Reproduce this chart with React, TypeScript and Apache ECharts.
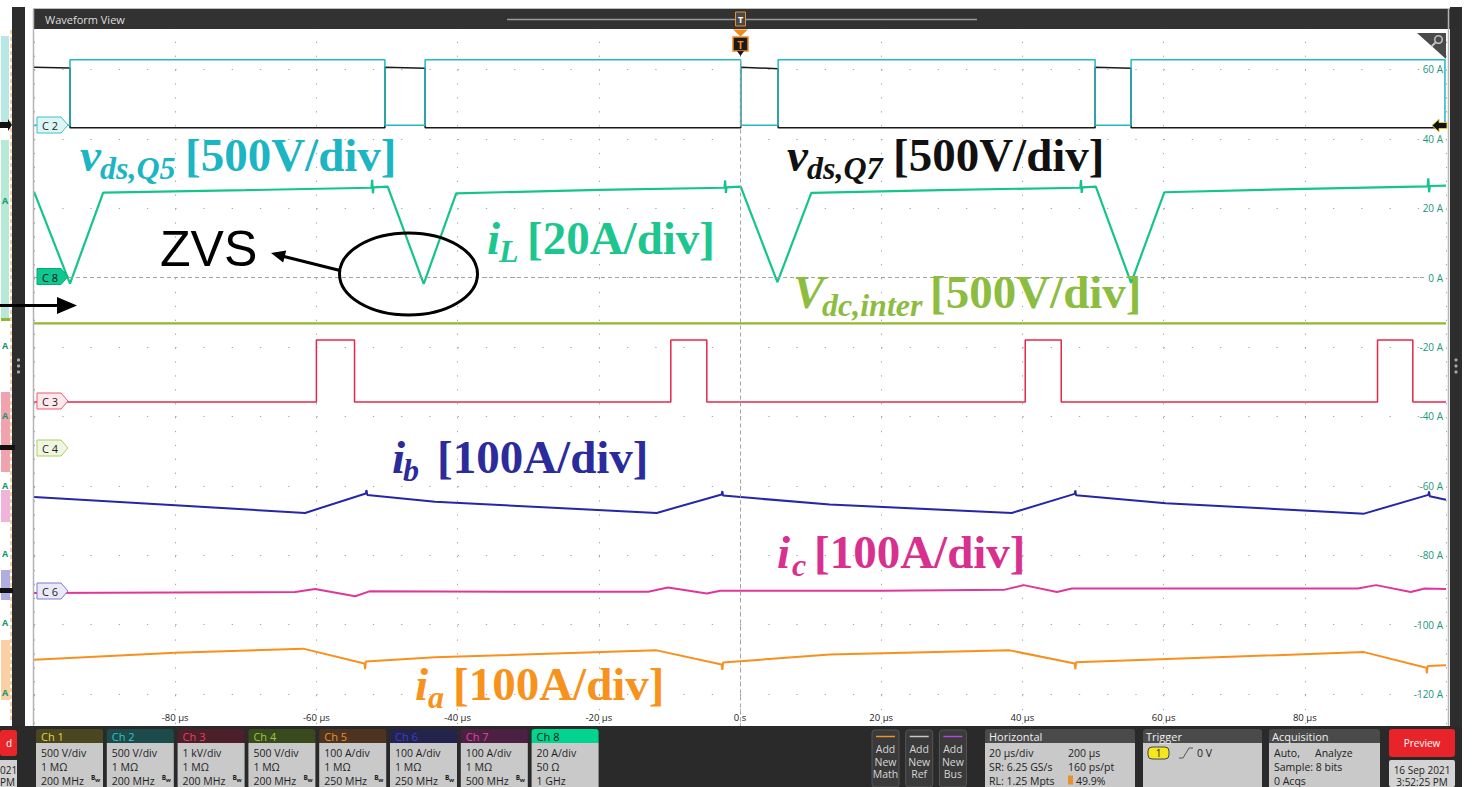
import { useEffect, useRef } from "react";
import * as echarts from "echarts";

type Pt = [number, number];

// Horizontal: time in µs (20 µs/div). Vertical: screen level read on the Ch8 graticule
// (20 A/div, 0 A at the C8 marker); every trace is placed on that common scale.

const vdsQ5: Pt[] = [
  [-100, 43.9], [-94.9, 43.9], [-94.9, 62.8], [-50.3, 62.8], [-50.3, 43.9],
  [-44.6, 43.9], [-44.6, 62.8], [0.1, 62.8], [0.1, 43.9], [5.4, 43.9],
  [5.4, 62.8], [50.3, 62.8], [50.3, 43.9], [55.4, 43.9], [55.4, 62.8],
  [99.85, 62.8], [99.85, 44.6], [100, 44.6],
];

const vdsQ7: Pt[] = [
  [-100, 60.6], [-94.9, 60.4], [-94.9, 43.2], [-50.3, 43.2], [-50.3, 60.6],
  [-44.6, 60.3], [-44.6, 43.2], [0.1, 43.2], [0.1, 60.6], [5.4, 60.2],
  [5.4, 43.2], [50.3, 43.2], [50.3, 60.6], [55.4, 60.3], [55.4, 43.2],
  [100, 43.2],
];

const iL: Pt[] = [
  [-100, 24.8], [-94.9, -1.7], [-90.2, 24.5], [-70, 25.2], [-52.2, 25.9],
  [-52.1, 28.2], [-52.0, 24.3], [-51.9, 26.0], [-49.9, 26.2],
  [-44.8, -1.8], [-40.2, 24.3], [-20, 25.3], [-2.2, 25.9], [-2.1, 28.0],
  [-2.0, 24.4], [-1.9, 26.0], [0.1, 26.2], [5.3, -1.3], [10.1, 24.4],
  [30, 25.3], [48.2, 25.9], [48.3, 28.1], [48.4, 24.4], [48.5, 26.0],
  [50.4, 26.2], [55.4, -1.5], [60.1, 24.6], [80, 25.6], [97.4, 26.3],
  [97.5, 28.6], [97.6, 24.6], [97.7, 26.4], [100, 26.5],
];

const vdcInter: Pt[] = [[-100, -13.2], [100, -13.2]];

const ch3: Pt[] = [
  [-100, -35.8], [-60.0, -35.8], [-60.0, -18.0], [-54.6, -18.0], [-54.6, -35.8],
  [-9.8, -35.8], [-9.8, -18.0], [-4.7, -18.0], [-4.7, -35.8], [40.4, -35.8],
  [40.4, -18.0], [45.5, -18.0], [45.5, -35.8], [90.3, -35.8], [90.3, -18.0],
  [95.3, -18.0], [95.3, -35.8], [100, -35.8],
];

const ib: Pt[] = [
  [-100, -63.2], [-80, -65.6], [-61.6, -67.8], [-53.0, -62.2], [-52.9, -61.2],
  [-52.8, -62.6], [-43.2, -64.6], [-11.8, -67.8], [-2.6, -62.5], [-2.5, -61.5],
  [-2.4, -62.8], [12.7, -65.4], [38.5, -67.8], [47.4, -62.3], [47.5, -61.3],
  [47.6, -62.7], [60.3, -65.0], [88.4, -68.0], [97.5, -62.6], [97.6, -61.6],
  [97.7, -63.0], [100, -64.0],
];

const ic: Pt[] = [
  [-100, -90.9], [-80, -90.7], [-63, -90.6], [-60.2, -89.7], [-54.5, -91.8],
  [-52.5, -90.4], [-30, -90.5], [-13, -90.5], [-10.2, -89.3], [-4.7, -91.0],
  [-2.8, -90.2], [20, -90.2], [37.5, -89.9], [40.2, -88.6], [44.9, -90.6],
  [47, -89.6], [70, -89.6], [87.5, -89.6], [90.1, -88.6], [95.0, -90.6],
  [97, -89.6], [100, -89.7],
];

const ia: Pt[] = [
  [-100, -110.1], [-80, -108.1], [-61.9, -106.9], [-53.2, -111.2], [-53.1, -112.8],
  [-53.0, -110.6], [-43.2, -109.4], [-11.8, -107.4], [-2.6, -111.5], [-2.5, -113.0],
  [-2.4, -110.9], [12.7, -108.6], [38.2, -107.4], [47.4, -111.2], [47.5, -112.8],
  [47.6, -110.8], [88.4, -107.9], [97.2, -112.4], [97.3, -114.0], [97.4, -111.9],
  [100, -111.7],
];

const channelNames = ["Ch 1", "Ch 2", "Ch 3", "Ch 4", "Ch 5", "Ch 6", "Ch 7", "Ch 8"];
const channelScales = ["500 V/div", "500 V/div", "1 kV/div", "500 V/div", "100 A/div", "100 A/div", "100 A/div", "20 A/div"];
const channelInputs = ["1 MΩ", "1 MΩ", "1 MΩ", "1 MΩ", "1 MΩ", "1 MΩ", "1 MΩ", "50 Ω"];
const channelBandwidths = ["200 MHz", "200 MHz", "200 MHz", "200 MHz", "250 MHz", "250 MHz", "500 MHz", "1 GHz"];
const channelHeadBg = ["#4a4720", "#1d4a4a", "#4c1f2b", "#394a1f", "#4c3420", "#23234c", "#4c2042", "#00d48e"];
const channelHeadFg = ["#e6d442", "#2ec8c8", "#e8435c", "#9ccc3a", "#f0902a", "#3d3dd4", "#e043a2", "#111111"];

const Z = 100;
const SERIF = "Liberation Serif";
const UI = "Open Sans";

function rect(x: number, y: number, w: number, h: number, fill: string, o: any = {}) {
  return {
    type: "rect", z: o.z ?? Z, silent: true,
    shape: { x, y, width: w, height: h, r: o.r ?? 0 },
    style: { fill, stroke: o.stroke ?? null, lineWidth: o.lw ?? 0, opacity: o.opacity ?? 1 },
  };
}

function text(x: number, y: number, t: string, o: any = {}) {
  const align = o.align ?? "left";
  return {
    type: "text", z: o.z ?? Z + 2, silent: true, x, y,
    style: {
      text: t, fill: o.fill ?? "#222", fontSize: o.size ?? 10.5,
      fontFamily: o.family ?? UI, fontWeight: o.weight ?? "normal",
      fontStyle: o.italic ? "italic" : "normal",
      align, textAlign: align, verticalAlign: "middle", textVerticalAlign: "middle",
    },
  };
}

function line(x1: number, y1: number, x2: number, y2: number, stroke: string, lw = 1, o: any = {}) {
  return {
    type: "line", z: o.z ?? Z + 1, silent: true,
    shape: { x1, y1, x2, y2 },
    style: { stroke, lineWidth: lw, lineDash: o.dash ?? null },
  };
}

function poly(points: number[][], fill: string, o: any = {}) {
  return {
    type: "polygon", z: o.z ?? Z + 1, silent: true,
    shape: { points },
    style: { fill, stroke: o.stroke ?? null, lineWidth: o.lw ?? 0 },
  };
}

function channelTag(y: number, label: string, fill: string, stroke: string, fg = "#222") {
  return [
    poly([[37, y - 8], [61, y - 8], [68, y], [61, y + 8], [37, y + 8]], fill, { stroke, lw: 1, z: Z + 3 }),
    text(42, y + 0.5, label, { fill: fg, size: 11, z: Z + 4 }),
  ];
}

// italic symbol + italic subscript + upright scale text
function traceLabel(x: number, y: number, sym: string, subX: number, sub: string, scaleX: number, scale: string, fill: string) {
  return [
    text(x, y, sym, { fill, size: 47, family: SERIF, weight: "bold", italic: true }),
    text(subX, y + 13, sub, { fill, size: 32, family: SERIF, weight: "bold", italic: true }),
    text(scaleX, y, scale, { fill, size: 47, family: SERIF, weight: "bold" }),
  ];
}

function buildGraphic() {
  const g: any[] = [];

  // page chrome: top strip, header, side columns, plot frame
  g.push(rect(0, 0, 1482, 8.5, "#ffffff"));
  g.push(rect(33, 8, 1418, 1, "#bdbdbd"));
  g.push(rect(33, 9, 1417, 20, "#323232"));
  g.push(text(45, 19.5, "Waveform View", { fill: "#dedede", size: 11 }));
  g.push(line(507, 19.5, 977, 19.5, "#9c9c9c", 1.5));
  g.push(rect(735.5, 12, 10, 14, "#4a4a4a", { stroke: "#e8902a", lw: 1, z: Z + 1 }));
  g.push(text(740.5, 19.5, "T", { fill: "#ffffff", size: 9, weight: "bold", align: "center" }));

  g.push(rect(0, 9, 12, 717, "#ffffff"));
  g.push(rect(12, 7, 13, 780, "#2d2d2d"));
  g.push(rect(25, 9, 8, 717, "#ffffff"));
  g.push(line(33.5, 9, 33.5, 726, "#b4b4b4", 1.5));
  g.push(line(1448.5, 9, 1448.5, 726, "#b4b4b4", 1.5));
  g.push(rect(1450, 7, 12, 780, "#2d2d2d"));
  g.push(rect(1462, 0, 20, 787, "#ffffff"));
  for (const dy of [-6, 0, 6]) {
    g.push({ type: "circle", z: Z + 1, silent: true, shape: { cx: 18.5, cy: 366 + dy, r: 1.6 }, style: { fill: "#a8a8a8" } });
    g.push({ type: "circle", z: Z + 1, silent: true, shape: { cx: 1456, cy: 366 + dy, r: 1.6 }, style: { fill: "#a8a8a8" } });
  }

  // narrow overview strip on the far left
  g.push(rect(1, 36, 8, 92, "#7fd3cc", { opacity: 0.55 }));
  g.push(rect(1, 140, 8, 180, "#5fd0a4", { opacity: 0.45 }));
  g.push(rect(1, 318, 9, 3, "#8fb82e"));
  g.push(rect(1, 392, 9, 80, "#e5566e", { opacity: 0.55 }));
  g.push(rect(1, 490, 9, 32, "#e06ab0", { opacity: 0.5 }));
  g.push(rect(1, 570, 9, 30, "#4b4bc0", { opacity: 0.45 }));
  g.push(rect(1, 640, 9, 60, "#f5a24a", { opacity: 0.5 }));
  g.push(line(11, 30, 11, 720, "#f0a040", 1, { dash: [4, 3] }));
  for (const ay of [200, 345, 415, 485, 553, 622, 692]) {
    g.push(text(5, ay, "A", { fill: "#169a72", size: 9, weight: "bold", align: "center" }));
  }
  g.push(poly([[0, 122], [8, 122], [8, 119], [12, 125], [8, 131], [8, 128], [0, 128]], "#111111"));
  g.push(rect(0, 445, 15, 5, "#111111", { z: Z + 1 }));
  g.push(rect(0, 588, 13, 5, "#111111", { z: Z + 1 }));

  // top-right zoom corner and right-edge ground marker
  g.push(poly([[1417, 33], [1446, 33], [1446, 59]], "#4a4a4a"));
  g.push({ type: "circle", z: Z + 2, silent: true, shape: { cx: 1438.5, cy: 39.5, r: 3.8 }, style: { fill: "none", stroke: "#c4c4c4", lineWidth: 1.5 } });
  g.push(line(1435.6, 42.4, 1431.5, 46.5, "#c4c4c4", 2, { z: Z + 2 }));
  g.push(poly([[1432, 125.5], [1439, 119], [1439, 122.5], [1447, 122.5], [1447, 128.5], [1439, 128.5], [1439, 132]], "#111111", { stroke: "#e0c83a", lw: 1 }));

  // trigger position marker
  g.push(poly([[733, 29.5], [748, 29.5], [740.5, 36.5]], "#f08c1e"));
  g.push(rect(733, 37, 15, 14, "#1a1a1a", { stroke: "#f08c1e", lw: 1.5, z: Z + 1 }));
  g.push(text(740.5, 44.5, "T", { fill: "#f08c1e", size: 11, weight: "bold", align: "center" }));
  g.push(poly([[737, 51], [744, 51], [740.5, 56]], "#1a1a1a"));

  // channel ground tags
  g.push(...channelTag(125, "C 2", "#def5f5", "#3cc2c8"));
  g.push(...channelTag(276.5, "C 8", "#10c78f", "#0aa676", "#111111"));
  g.push(...channelTag(401, "C 3", "#fde8eb", "#ea5a72"));
  g.push(...channelTag(448, "C 4", "#eff7e2", "#a9d15a"));
  g.push(...channelTag(591, "C 6", "#e9e9f8", "#7c7cd8"));

  // trace annotations
  g.push(...traceLabel(80, 155, "v", 100, "ds,Q5", 185, "[500V/div]", "#1bb5c4"));
  g.push(...traceLabel(787, 155, "v", 807, "ds,Q7", 893, "[500V/div]", "#111111"));
  g.push(...traceLabel(487, 238, "i", 499, "L", 527, "[20A/div]", "#1ec68f"));
  g.push(...traceLabel(793, 292, "V", 822, "dc,inter", 930, "[500V/div]", "#8dbd40"));
  g.push(...traceLabel(392, 457, "i", 403, "b", 437, "[100A/div]", "#2b2b9c"));
  g.push(...traceLabel(777, 552, "i", 792, "c", 814, "[100A/div]", "#d8308e"));
  g.push(...traceLabel(415, 684, "i", 428, "a", 453, "[100A/div]", "#f7931d"));

  // ZVS callout
  g.push(text(160, 249, "ZVS", { fill: "#000000", size: 50, family: "Liberation Sans" }));
  g.push({ type: "ellipse", z: Z + 1, silent: true, shape: { cx: 408.5, cy: 274, rx: 69, ry: 41 }, style: { fill: "none", stroke: "#000000", lineWidth: 3 } });
  g.push(line(340, 270.5, 284, 256.5, "#000000", 3));
  g.push(poly([[271, 253], [283.2, 262.4], [286.2, 250.4]], "#000000"));
  g.push(line(0, 305.5, 60, 305.5, "#000000", 3));
  g.push(poly([[77, 305.5], [57, 297], [57, 314]], "#000000"));

  // status bar
  g.push(rect(0, 726, 1462, 61, "#2a2a2a"));
  g.push(rect(0, 730, 17, 26, "#e8262a", { r: 3, z: Z + 1 }));
  g.push(text(9, 743, "d", { fill: "#ffffff", size: 10, align: "center" }));
  g.push(rect(0, 760, 17, 27, "#d2d2d2", { z: Z + 1 }));
  g.push(text(0, 769.5, "021", { fill: "#222", size: 10 }));
  g.push(text(0, 781.5, "PM", { fill: "#222", size: 10 }));

  channelNames.forEach((name, i) => {
    const x = 36 + 70.8 * i;
    g.push(rect(x, 729, 67, 14, channelHeadBg[i], { r: [3, 3, 0, 0], z: Z + 1 }));
    g.push(text(x + 5, 736, name, { fill: channelHeadFg[i], size: 11 }));
    g.push(rect(x, 743, 67, 44, "#c9c9c9", { z: Z + 1 }));
    g.push(text(x + 5, 752.5, channelScales[i], { fill: "#1e1e1e", size: 10.5 }));
    g.push(text(x + 5, 766.5, channelInputs[i], { fill: "#1e1e1e", size: 10.5 }));
    g.push(text(x + 5, 780.5, channelBandwidths[i], { fill: "#1e1e1e", size: 10.5 }));
    if (i < 7) {
      g.push(text(x + 55, 777, "B", { fill: "#1e1e1e", size: 6.5, weight: "bold" }));
      g.push(text(x + 59, 779.5, "w", { fill: "#1e1e1e", size: 6, weight: "bold" }));
    }
  });

  const addLabels = ["Math", "Ref", "Bus"];
  const addColors = ["#f0902a", "#c8c8c8", "#b347e6"];
  addLabels.forEach((lab, j) => {
    const x = 872 + 33.7 * j;
    g.push(rect(x, 730, 27, 57, "#3a3a3a", { r: 3, stroke: "#555555", lw: 1, z: Z + 1 }));
    g.push(line(x + 4, 736.5, x + 23, 736.5, addColors[j], 1.5, { z: Z + 2 }));
    g.push(text(x + 13.5, 749, "Add", { fill: "#d6d6d6", size: 10.5, align: "center" }));
    g.push(text(x + 13.5, 761.5, "New", { fill: "#d6d6d6", size: 10.5, align: "center" }));
    g.push(text(x + 13.5, 774, lab, { fill: "#d6d6d6", size: 10.5, align: "center" }));
  });

  g.push(rect(985, 729, 150, 14, "#4a4a4a", { r: [3, 3, 0, 0], z: Z + 1 }));
  g.push(text(989, 736, "Horizontal", { fill: "#f0f0f0", size: 11 }));
  g.push(rect(985, 743, 150, 44, "#c9c9c9", { z: Z + 1 }));
  g.push(text(989, 752.5, "20 µs/div", { size: 10.5 }));
  g.push(text(1068, 752.5, "200 µs", { size: 10.5 }));
  g.push(text(989, 766.5, "SR: 6.25 GS/s", { size: 10.5 }));
  g.push(text(1068, 766.5, "160 ps/pt", { size: 10.5 }));
  g.push(text(989, 780.5, "RL: 1.25 Mpts", { size: 10.5 }));
  g.push(rect(1068, 775.5, 5, 9, "#e8902a", { z: Z + 2 }));
  g.push(text(1076, 780.5, "49.9%", { size: 10.5 }));

  g.push(rect(1143, 729, 119, 14, "#4a4a4a", { r: [3, 3, 0, 0], z: Z + 1 }));
  g.push(text(1146, 736, "Trigger", { fill: "#f0f0f0", size: 11 }));
  g.push(rect(1143, 743, 119, 44, "#c9c9c9", { z: Z + 1 }));
  g.push(rect(1148, 747, 21, 12, "#f5e61e", { r: 4, stroke: "#444444", lw: 1, z: Z + 2 }));
  g.push(text(1158.5, 753, "1", { size: 10, align: "center" }));
  g.push({ type: "polyline", z: Z + 2, silent: true, shape: { points: [[1179, 758], [1183, 758], [1189, 748], [1193, 748]] }, style: { stroke: "#555555", lineWidth: 1, fill: "none" } });
  g.push(text(1197, 753, "0 V", { size: 10.5 }));

  g.push(rect(1269, 729, 111, 14, "#4a4a4a", { r: [3, 3, 0, 0], z: Z + 1 }));
  g.push(text(1272, 736, "Acquisition", { fill: "#f0f0f0", size: 11 }));
  g.push(rect(1269, 743, 111, 44, "#c9c9c9", { z: Z + 1 }));
  g.push(text(1274, 752.5, "Auto,", { size: 10.5 }));
  g.push(text(1315, 752.5, "Analyze", { size: 10.5 }));
  g.push(text(1274, 766.5, "Sample: 8 bits", { size: 10.5 }));
  g.push(text(1274, 780.5, "0 Acqs", { size: 10.5 }));

  g.push(rect(1389, 729, 66, 28, "#e8232a", { r: 3, z: Z + 1 }));
  g.push(text(1422, 743, "Preview", { fill: "#ffffff", size: 10, align: "center" }));
  g.push(rect(1389, 760, 66, 27, "#d4d4d4", { r: 2, z: Z + 1 }));
  g.push(text(1422, 770, "16 Sep 2021", { size: 10, align: "center" }));
  g.push(text(1422, 781.5, "3:52:25 PM", { size: 10, align: "center" }));

  return g;
}

function trace(name: string, data: Pt[], color: string, width: number, extra: any = {}) {
  return {
    type: "line", name, data, showSymbol: false, symbol: "none", silent: true,
    lineStyle: { color, width }, itemStyle: { color }, z: 2, ...extra,
  };
}

function buildOption() {
  return {
    animation: false,
    grid: { left: 34, right: 36, top: -1, bottom: 23.5 },
    xAxis: {
      type: "value", min: -100, max: 100, interval: 20, position: "bottom", offset: -37.5,
      axisLine: { show: false, onZero: false }, axisTick: { show: false },
      axisLabel: {
        inside: true, margin: 4, fontSize: 9.5, color: "#222222", fontFamily: UI,
        formatter: (v: number) => (v === 0 ? "0 s" : Math.abs(v) >= 100 ? "" : `${v} µs`),
      },
      splitLine: { show: true, lineStyle: { color: "#a6a6a6", width: 1, type: [1.3, 12.6] } },
    },
    yAxis: {
      type: "value", min: -140, max: 80, interval: 20, position: "right",
      axisLine: { show: false, onZero: false }, axisTick: { show: false },
      axisLabel: {
        inside: true, margin: 3, fontSize: 10, color: "#18977a", fontFamily: UI,
        formatter: (v: number) => (v <= 60 && v >= -120 ? `${v} A` : ""),
      },
      splitLine: { show: true, lineStyle: { color: "#a6a6a6", width: 1, type: [1.3, 26.94] } },
    },
    series: [
      trace("v_ds,Q7", vdsQ7, "#1a1a1a", 1.5, {
        markLine: {
          silent: true, symbol: ["none", "none"], label: { show: false },
          lineStyle: { type: [4, 3], color: "#a3a3a3", width: 1 },
          data: [{ xAxis: 0 }, [{ coord: [-100, 0] }, { coord: [97, 0] }]],
        },
      }),
      trace("v_ds,Q5", vdsQ5, "#21b9c2", 1.5),
      trace("i_L", iL, "#14c48d", 2.2),
      trace("V_dc,inter", vdcInter, "#8fb82e", 2.2),
      trace("Ch3", ch3, "#e3284b", 1.5),
      trace("i_b", ib, "#2626a8", 2),
      trace("i_c", ic, "#e0369c", 2),
      trace("i_a", ia, "#f7901e", 2),
    ],
    graphic: { elements: buildGraphic() },
  };
}

export default function App() {
  const ref = useRef<HTMLDivElement>(null);
  useEffect(() => {
    const chart = echarts.init(ref.current!, undefined, { renderer: "svg" });
    chart.setOption(buildOption() as any);
    return () => chart.dispose();
  }, []);
  return (
    <div
      ref={ref}
      style={{ position: "absolute", left: 0, top: 0, width: 1482, height: 787, background: "#ffffff" }}
    />
  );
}
